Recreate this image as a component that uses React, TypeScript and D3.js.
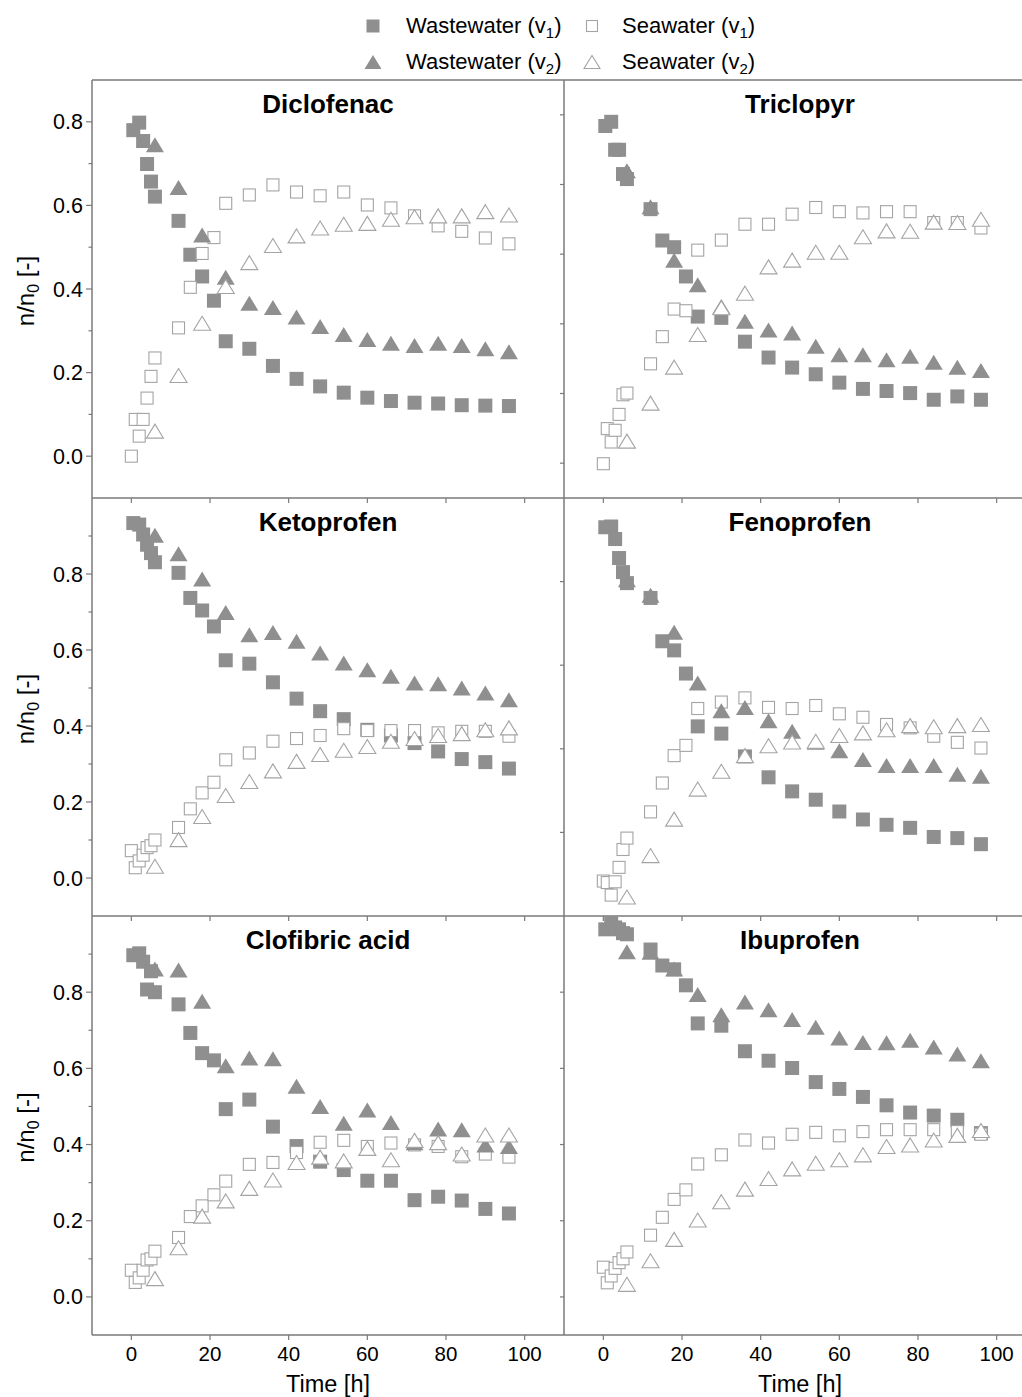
import React from "react";
import * as d3 from "d3";

// ---- time points (h) ----
const tWW1 = [0.5, 2, 3, 4, 5, 6, 12, 15, 18, 21, 24, 30, 36, 42, 48, 54, 60, 66, 72, 78, 84, 90, 96];
const tSW1 = [0, 1, 2, 3, 4, 5, 6, 12, 15, 18, 21, 24, 30, 36, 42, 48, 54, 60, 66, 72, 78, 84, 90, 96];
const tV2 = [6, 12, 18, 24, 30, 36, 42, 48, 54, 60, 66, 72, 78, 84, 90, 96];

// ---- Diclofenac ----
const diclofenacWW1 = [0.780, 0.798, 0.754, 0.699, 0.657, 0.621, 0.563, 0.482, 0.430, 0.372, 0.275, 0.257, 0.216, 0.185, 0.167, 0.152, 0.140, 0.132, 0.128, 0.126, 0.122, 0.121, 0.120];
const diclofenacSW1 = [0.0, 0.088, 0.048, 0.088, 0.139, 0.191, 0.235, 0.307, 0.404, 0.485, 0.523, 0.605, 0.625, 0.649, 0.632, 0.623, 0.632, 0.601, 0.594, 0.575, 0.551, 0.538, 0.522, 0.508];
const diclofenacWW2 = [0.745, 0.643, 0.529, 0.428, 0.366, 0.356, 0.333, 0.310, 0.291, 0.279, 0.270, 0.265, 0.270, 0.265, 0.257, 0.250];
const diclofenacSW2 = [0.060, 0.193, 0.318, 0.406, 0.463, 0.504, 0.527, 0.546, 0.555, 0.557, 0.567, 0.573, 0.575, 0.575, 0.585, 0.577];

// ---- Triclopyr ----
const triclopyrWW1 = [0.790, 0.800, 0.733, 0.733, 0.675, 0.663, 0.591, 0.516, 0.500, 0.430, 0.334, 0.331, 0.274, 0.236, 0.212, 0.196, 0.176, 0.161, 0.156, 0.151, 0.135, 0.143, 0.135];
const triclopyrSW1 = [-0.018, 0.066, 0.034, 0.062, 0.100, 0.147, 0.151, 0.221, 0.286, 0.352, 0.348, 0.493, 0.517, 0.555, 0.555, 0.579, 0.595, 0.585, 0.582, 0.585, 0.585, 0.559, 0.559, 0.546];
const triclopyrWW2 = [0.683, 0.597, 0.469, 0.410, 0.358, 0.323, 0.302, 0.295, 0.263, 0.243, 0.243, 0.231, 0.239, 0.225, 0.213, 0.205];
const triclopyrSW2 = [0.036, 0.127, 0.213, 0.291, 0.355, 0.390, 0.453, 0.469, 0.488, 0.488, 0.525, 0.539, 0.538, 0.560, 0.559, 0.567];

// ---- Ketoprofen ----
const ketoprofenWW1 = [0.934, 0.930, 0.904, 0.877, 0.855, 0.831, 0.803, 0.737, 0.704, 0.662, 0.573, 0.564, 0.515, 0.472, 0.439, 0.418, 0.390, 0.375, 0.355, 0.333, 0.313, 0.305, 0.288];
const ketoprofenSW1 = [0.072, 0.027, 0.045, 0.060, 0.080, 0.085, 0.100, 0.133, 0.182, 0.224, 0.252, 0.311, 0.329, 0.360, 0.367, 0.375, 0.393, 0.388, 0.388, 0.388, 0.382, 0.386, 0.386, 0.373];
const ketoprofenWW2 = [0.902, 0.853, 0.787, 0.699, 0.640, 0.646, 0.623, 0.592, 0.566, 0.548, 0.531, 0.513, 0.511, 0.500, 0.487, 0.469];
const ketoprofenSW2 = [0.031, 0.101, 0.162, 0.217, 0.254, 0.282, 0.307, 0.325, 0.336, 0.346, 0.360, 0.367, 0.375, 0.380, 0.390, 0.395];

// ---- Fenoprofen ----
const fenoprofenWW1 = [0.923, 0.925, 0.892, 0.842, 0.805, 0.776, 0.737, 0.623, 0.599, 0.538, 0.399, 0.380, 0.320, 0.265, 0.228, 0.206, 0.175, 0.154, 0.140, 0.132, 0.108, 0.105, 0.089];
const fenoprofenSW1 = [-0.008, -0.012, -0.045, -0.010, 0.028, 0.075, 0.105, 0.174, 0.250, 0.322, 0.349, 0.446, 0.463, 0.474, 0.449, 0.446, 0.454, 0.432, 0.423, 0.404, 0.395, 0.373, 0.357, 0.342];
const fenoprofenWW2 = [0.785, 0.744, 0.647, 0.513, 0.440, 0.449, 0.414, 0.386, 0.357, 0.335, 0.312, 0.296, 0.296, 0.296, 0.273, 0.268];
const fenoprofenSW2 = [-0.050, 0.059, 0.155, 0.234, 0.281, 0.322, 0.348, 0.358, 0.360, 0.375, 0.382, 0.390, 0.401, 0.398, 0.401, 0.404];

// ---- Clofibric acid ----
const clofibricWW1 = [0.897, 0.902, 0.880, 0.807, 0.855, 0.800, 0.768, 0.693, 0.640, 0.621, 0.493, 0.518, 0.447, 0.396, 0.355, 0.333, 0.305, 0.305, 0.254, 0.263, 0.253, 0.231, 0.219];
const clofibricSW1 = [0.070, 0.038, 0.050, 0.070, 0.097, 0.100, 0.120, 0.156, 0.211, 0.239, 0.268, 0.304, 0.348, 0.353, 0.379, 0.406, 0.411, 0.395, 0.404, 0.399, 0.395, 0.368, 0.375, 0.367];
const clofibricWW2 = [0.861, 0.858, 0.776, 0.607, 0.627, 0.625, 0.553, 0.500, 0.456, 0.491, 0.458, 0.405, 0.441, 0.439, 0.399, 0.395];
const clofibricSW2 = [0.048, 0.129, 0.212, 0.252, 0.285, 0.307, 0.353, 0.367, 0.357, 0.390, 0.360, 0.411, 0.405, 0.375, 0.425, 0.425];

// ---- Ibuprofen ----
const ibuprofenWW1 = [0.965, 0.980, 0.970, 0.965, 0.955, 0.952, 0.912, 0.870, 0.860, 0.818, 0.718, 0.712, 0.645, 0.620, 0.601, 0.564, 0.546, 0.525, 0.503, 0.484, 0.476, 0.465, 0.430];
const ibuprofenSW1 = [0.078, 0.037, 0.055, 0.075, 0.090, 0.100, 0.118, 0.162, 0.209, 0.256, 0.281, 0.349, 0.373, 0.412, 0.404, 0.427, 0.432, 0.423, 0.434, 0.439, 0.439, 0.439, 0.434, 0.427];
const ibuprofenWW2 = [0.906, 0.905, 0.861, 0.794, 0.741, 0.774, 0.754, 0.728, 0.708, 0.680, 0.668, 0.667, 0.674, 0.656, 0.638, 0.620];
const ibuprofenSW2 = [0.033, 0.095, 0.151, 0.202, 0.250, 0.283, 0.311, 0.336, 0.351, 0.360, 0.373, 0.395, 0.399, 0.412, 0.424, 0.437];

const titles = ["Diclofenac", "Triclopyr", "Ketoprofen", "Fenoprofen", "Clofibric acid", "Ibuprofen"];
const xTicks = [0, 20, 40, 60, 80, 100];
const yLabelTicks = [0, 0.2, 0.4, 0.6, 0.8];
const yMinorTicks = [-0.1, 0.1, 0.3, 0.5, 0.7, 0.9];
const legendLabels = [
  { base: "Wastewater (v", sub: "1" },
  { base: "Seawater (v", sub: "1" },
  { base: "Wastewater (v", sub: "2" },
  { base: "Seawater (v", sub: "2" },
];

const FONT = "'Liberation Sans', Arial, Helvetica, sans-serif";
const FILL = "#8f8f8f";
const OPEN = "#a4a4a4";
const AXIS = "#7a7a7a";

const rowTops = [80, 498, 916];
const rowBottoms = [498, 916, 1335];
const rowDomains: [number, number][] = [[-0.1, 0.9], [-0.1, 1.0], [-0.1, 1.0]];
// right-panel axis tick scales (own axis layers)
const rightTickDomains: [number, number][] = [[-0.1, 1.1], [0, 1.0], [-0.1, 1.0]];
const rightTicks = [[0, 0.2, 0.4, 0.6, 0.8, 1.0], [0.2, 0.4, 0.6, 0.8], [0, 0.2, 0.4, 0.6, 0.8]];

const panels = [
  { ww1: diclofenacWW1, sw1: diclofenacSW1, ww2: diclofenacWW2, sw2: diclofenacSW2 },
  { ww1: triclopyrWW1, sw1: triclopyrSW1, ww2: triclopyrWW2, sw2: triclopyrSW2 },
  { ww1: ketoprofenWW1, sw1: ketoprofenSW1, ww2: ketoprofenWW2, sw2: ketoprofenSW2 },
  { ww1: fenoprofenWW1, sw1: fenoprofenSW1, ww2: fenoprofenWW2, sw2: fenoprofenSW2 },
  { ww1: clofibricWW1, sw1: clofibricSW1, ww2: clofibricWW2, sw2: clofibricSW2 },
  { ww1: ibuprofenWW1, sw1: ibuprofenSW1, ww2: ibuprofenWW2, sw2: ibuprofenSW2 },
];

const colLeft = [92, 564];
const colRight = [564, 1036];

function triPath(cx: number, cy: number, w: number, h: number) {
  return `M${cx},${cy - h / 2}L${cx + w / 2},${cy + h / 2}L${cx - w / 2},${cy + h / 2}Z`;
}

function Panel({ idx }: { idx: number }) {
  const row = Math.floor(idx / 2);
  const col = idx % 2;
  const x = d3.scaleLinear().domain([-10, 110]).range([colLeft[col], colRight[col]]);
  const y = d3.scaleLinear().domain(rowDomains[row]).range([rowBottoms[row], rowTops[row]]);
  const p = panels[idx];
  const sq = 14;
  const osq = 13;
  return (
    <g>
      {p.ww1.map((v, i) => (
        <rect key={"a" + i} x={x(tWW1[i]) - sq / 2} y={y(v) - sq / 2} width={sq} height={sq} fill={FILL} />
      ))}
      {p.sw1.map((v, i) => (
        <rect key={"b" + i} x={x(tSW1[i]) - osq / 2 + 0.5} y={y(v) - osq / 2 + 0.5} width={osq - 1} height={osq - 1} fill="white" stroke={OPEN} strokeWidth={1.1} />
      ))}
      {p.ww2.map((v, i) => (
        <path key={"c" + i} d={triPath(x(tV2[i]), y(v), 18, 15)} fill={FILL} />
      ))}
      {p.sw2.map((v, i) => (
        <path key={"d" + i} d={triPath(x(tV2[i]), y(v), 17, 14)} fill="white" stroke={OPEN} strokeWidth={1.1} />
      ))}
      <text x={(colLeft[col] + colRight[col]) / 2} y={rowTops[row] + 33} textAnchor="middle" fontFamily={FONT} fontWeight="bold" fontSize={26} fill="#000">
        {titles[idx]}
      </text>
      {xTicks.map((t) => (
        <line key={"xt" + t} x1={x(t)} x2={x(t)} y1={rowBottoms[row]} y2={rowBottoms[row] + 5} stroke={AXIS} strokeWidth={1.2} />
      ))}
      {row === 2 &&
        xTicks.map((t) => (
          <text key={"xl" + t} x={x(t)} y={1361} textAnchor="middle" fontFamily={FONT} fontSize={20.5} fill="#000">
            {t}
          </text>
        ))}
      {row === 2 && (
        <text x={x(50)} y={1392} textAnchor="middle" fontFamily={FONT} fontSize={23.5} fill="#000">
          Time [h]
        </text>
      )}
      {col === 0 && (
        <g>
          {yLabelTicks.map((t) => (
            <g key={"yl" + t}>
              <line x1={92} x2={86} y1={y(t)} y2={y(t)} stroke={AXIS} strokeWidth={1.2} />
              <text x={83} y={y(t) + 7.5} textAnchor="end" fontFamily={FONT} fontSize={21.5} fill="#000">
                {d3.format(".1f")(t)}
              </text>
            </g>
          ))}
          {yMinorTicks
            .filter((t) => y(t) > rowTops[row] + 1 && y(t) < rowBottoms[row] - 1)
            .map((t) => (
              <line key={"ym" + t} x1={92} x2={88.5} y1={y(t)} y2={y(t)} stroke={AXIS} strokeWidth={1.2} />
            ))}
          <text
            transform={`translate(34,${(rowTops[row] + rowBottoms[row]) / 2 + 2}) rotate(-90)`}
            textAnchor="middle"
            fontFamily={FONT}
            fontSize={24}
            fill="#000"
          >
            <tspan>n/n</tspan>
            <tspan fontSize={16} dy={5}>0</tspan>
            <tspan dy={-5}> [-]</tspan>
          </text>
        </g>
      )}
      {col === 1 &&
        (() => {
          const yt = d3.scaleLinear().domain(rightTickDomains[row]).range([rowBottoms[row], rowTops[row]]);
          return rightTicks[row].map((t) => (
            <line key={"rt" + t} x1={564} x2={560} y1={yt(t)} y2={yt(t)} stroke={AXIS} strokeWidth={1.2} />
          ));
        })()}
    </g>
  );
}

function Legend() {
  const rows = [26, 62];
  const cols = [373, 592];
  const textX = [406, 622];
  return (
    <g>
      <rect x={cols[0] - 6.5} y={rows[0] - 6.5} width={13} height={13} fill={FILL} />
      <rect x={cols[1] - 5.5} y={rows[0] - 5.5} width={11} height={11} fill="white" stroke={OPEN} strokeWidth={1.1} />
      <path d={triPath(cols[0], rows[1], 17, 14)} fill={FILL} />
      <path d={triPath(cols[1], rows[1], 16, 13)} fill="white" stroke={OPEN} strokeWidth={1.1} />
      {legendLabels.map((l, i) => {
        const r = Math.floor(i / 2);
        const c = i % 2;
        return (
          <text key={i} x={textX[c]} y={rows[r] + 7} fontFamily={FONT} fontSize={22} fill="#000">
            <tspan>{l.base}</tspan>
            <tspan fontSize={15} dy={5}>{l.sub}</tspan>
            <tspan dy={-5}>)</tspan>
          </text>
        );
      })}
    </g>
  );
}

export default function App() {
  return (
    <svg
      width={1022}
      height={1397}
      style={{ position: "absolute", left: 0, top: 0, background: "white" }}
      xmlns="http://www.w3.org/2000/svg"
    >
      <rect x={0} y={0} width={1022} height={1397} fill="white" />
      <Legend />
      {panels.map((_, i) => (
        <Panel key={i} idx={i} />
      ))}
      {[80, 498, 916, 1335].map((yy) => (
        <line key={"h" + yy} x1={92} x2={1022} y1={yy} y2={yy} stroke={AXIS} strokeWidth={1.5} />
      ))}
      {[92, 564].map((xx) => (
        <line key={"v" + xx} x1={xx} x2={xx} y1={80} y2={1335} stroke={AXIS} strokeWidth={1.5} />
      ))}
    </svg>
  );
}
